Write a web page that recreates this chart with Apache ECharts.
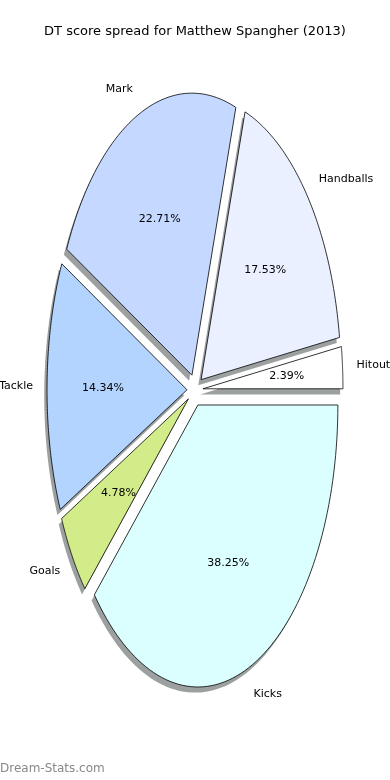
<!DOCTYPE html>
<html>
<head>
<meta charset="utf-8">
<script src="https://cdn.jsdelivr.net/npm/echarts@6/dist/echarts.min.js"></script>
<style>
html,body{margin:0;padding:0;background:#fff;}
#chart{width:390px;height:780px;}
</style>
</head>
<body>
<div id="chart"></div>
<script>
// ---- data ----
const categories = ['Hitout', 'Handballs', 'Mark', 'Tackle', 'Goals', 'Kicks'];
const points = [6, 44, 57, 36, 12, 96];
const titleText = 'DT score spread for Matthew Spangher (2013)';
const watermark = 'Dream-Stats.com';

// ---- styles ----
const sliceColors = ['#ffffff', '#eaf0ff', '#c5d8ff', '#b3d4ff', '#d2ec8a', '#dbffff'];
const explode = 0.057;
const FONT = 'DejaVu Sans';

const total = points.reduce((a, b) => a + b, 0);
const starts = [], ends = [];
let acc = 0;
points.forEach(v => { starts.push(acc / total); acc += v; ends.push(acc / total); });
const pct = points.map(v => (100 * v / total).toFixed(2) + '%');

function geom(i) {
  const s = starts[i] * 2 * Math.PI, e = ends[i] * 2 * Math.PI, m = (s + e) / 2;
  return { s, e, m, cx: explode * Math.cos(m), cy: explode * Math.sin(m) };
}
function wedge(api, i, ox, oy) {
  const g = geom(i);
  const pts = [api.coord([g.cx + ox, g.cy + oy])];
  const N = 80;
  for (let k = 0; k <= N; k++) {
    const t = g.s + (g.e - g.s) * k / N;
    pts.push(api.coord([g.cx + ox + Math.cos(t), g.cy + oy + Math.sin(t)]));
  }
  return pts;
}

const chart = echarts.init(document.getElementById('chart'));
const dataIdx = categories.map((c, i) => [i]);

chart.setOption({
  animation: false,
  title: {
    text: titleText, left: 'center', top: 20,
    textStyle: { fontFamily: FONT, fontSize: 13, fontWeight: 'normal', color: '#000' }
  },
  graphic: [{
    type: 'text', left: 0, top: 763,
    style: { text: watermark, fontFamily: FONT, fontSize: 12, fontWeight: 'normal', fill: '#888888' }
  }],
  grid: { left: 55, right: 55, top: 108, bottom: 108 },
  xAxis: { type: 'value', min: -1, max: 1, show: false },
  yAxis: { type: 'value', min: -1, max: 1, show: false },
  series: [
    {
      type: 'custom', clip: false, z: 1, data: dataIdx,
      renderItem: (params, api) => {
        const i = params.dataIndex;
        return { type: 'polygon', shape: { points: wedge(api, i, -0.02, -0.02) },
          style: { fill: 'rgba(60,66,66,0.5)', stroke: 'none' } };
      }
    },
    {
      type: 'custom', clip: false, z: 2, data: dataIdx,
      renderItem: (params, api) => {
        const i = params.dataIndex;
        return { type: 'polygon', shape: { points: wedge(api, i, 0, 0) },
          style: { fill: sliceColors[i], stroke: '#000', lineWidth: 0.8 } };
      }
    },
    {
      type: 'custom', clip: false, z: 3, data: dataIdx,
      renderItem: (params, api) => {
        const i = params.dataIndex;
        const g = geom(i);
        const lp = api.coord([g.cx + 1.1 * Math.cos(g.m), g.cy + 1.1 * Math.sin(g.m)]);
        const pp = api.coord([g.cx + 0.6 * Math.cos(g.m), g.cy + 0.6 * Math.sin(g.m)]);
        return { type: 'group', children: [
          { type: 'text', x: lp[0], y: lp[1], style: { text: categories[i],
            align: Math.cos(g.m) >= 0 ? 'left' : 'right', verticalAlign: 'middle',
            fontFamily: FONT, fontSize: 11, fill: '#000' } },
          { type: 'text', x: pp[0], y: pp[1], style: { text: pct[i],
            align: 'center', verticalAlign: 'middle',
            fontFamily: FONT, fontSize: 11, fill: '#000' } }
        ] };
      }
    }
  ]
});
</script>
</body>
</html>
